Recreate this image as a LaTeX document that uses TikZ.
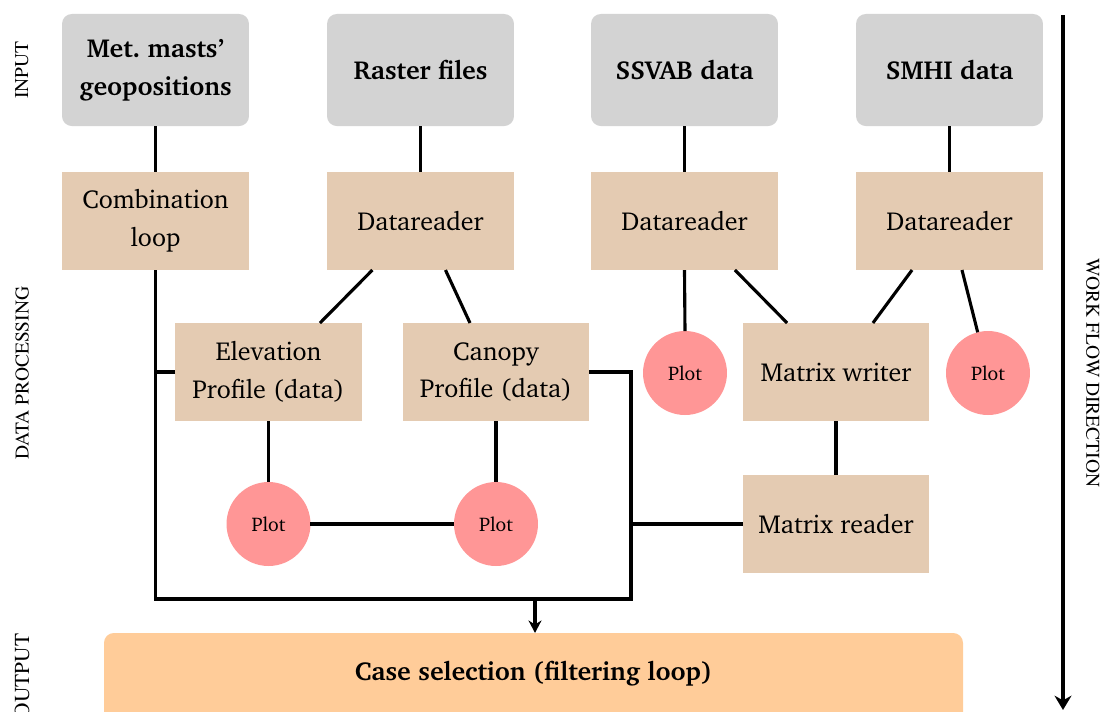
\documentclass[tikz,border=0pt]{standalone}
\usepackage[T1]{fontenc}
\usepackage{charter}
\usetikzlibrary{arrows.meta}
\definecolor{inputgray}{RGB}{211,211,211}
\definecolor{tanfill}{RGB}{228,203,178}
\definecolor{plotred}{RGB}{255,150,150}
\definecolor{outfill}{RGB}{255,204,153}
\newcommand{\sidefont}{\fontfamily{ptm}\fontsize{7.5}{9}\selectfont}

\begin{document}
\begin{tikzpicture}[x=0.3846pt,y=-0.3846pt,
  every node/.style={font=\fontsize{10}{14.6}\selectfont, align=center, inner sep=0pt, outer sep=0pt},
  inbox/.style={fill=inputgray, rounded corners=3.8pt, minimum width=71.9pt, minimum height=43.1pt,
                font=\bfseries\fontsize{10}{14.6}\selectfont},
  procbox/.style={fill=tanfill, minimum width=71.9pt, minimum height=37.7pt},
  plotnode/.style={circle, fill=plotred, minimum size=32.3pt, font=\fontsize{7.6}{9}\selectfont},
  outtext/.style={minimum width=330.4pt, minimum height=30.8pt,
                  font=\bfseries\fontsize{10}{14.6}\selectfont},
  link/.style={line width=1.2pt},
  sidelabel/.style={font=\sidefont}]

\clip (0,0) rectangle (1103,711);
\useasboundingbox (0,0) rectangle (1103,711);

% input row
\node[inbox] (masts)  at (155.5,70) {Met.\ masts'\\geopositions};
\node[inbox] (raster) at (420.5,70) {Raster files};
\node[inbox] (ssvab)  at (684.5,70) {SSVAB data};
\node[inbox] (smhi)   at (949.5,70) {SMHI data};

% first processing row
\node[procbox] (comb) at (155.5,221) {Combination\\loop};
\node[procbox] (dr2)  at (420.5,221) {Datareader};
\node[procbox] (dr3)  at (684.5,221) {Datareader};
\node[procbox] (dr4)  at (949.5,221) {Datareader};

% second processing row
\node[procbox] (elev)    at (268.5,372) {Elevation\\Profile (data)};
\node[procbox] (canopy)  at (496,372)   {Canopy\\Profile (data)};
\node[procbox] (mwriter) at (836,372)   {Matrix writer};
\node[procbox] (mreader) at (836,524)   {Matrix reader};

% plots
\node[plotnode] (p1) at (268.5,524) {Plot};
\node[plotnode] (p2) at (496,524)   {Plot};
\node[plotnode] (p3) at (685,373)   {Plot};
\node[plotnode] (p4) at (988,373)   {Plot};

% output: the box runs on below the lower edge
\fill[outfill, rounded corners=3.8pt] (104,633) rectangle (963,760);
\node[outtext] (case) at (533.5,673) {Case selection (filtering loop)};

% side labels
\node[sidelabel, rotate=90] (lin)   at (22,70)  {INPUT};
\node[sidelabel, rotate=90] (lproc) at (22,373) {DATA PROCESSING};
\node[sidelabel, rotate=90, font=\fontfamily{ptm}\fontsize{8.2}{9}\selectfont] (lout) at (22,676) {OUTPUT};
\node[sidelabel, rotate=-90] (lflow) at (1093,373) {WORK FLOW DIRECTION};

% connectors
\draw[link] (masts.south)  -- (comb.north);
\draw[link] (raster.south) -- (dr2.north);
\draw[link] (ssvab.south)  -- (dr3.north);
\draw[link] (smhi.south)   -- (dr4.north);

\draw[link] ([xshift=-18.5pt]dr2.south) -- ([xshift=19.8pt]elev.north);
\draw[link] ([xshift=9.6pt]dr2.south)   -- ([xshift=-10pt]canopy.north);
\draw[link] (dr3.south) -- (p3.north);
\draw[link] ([xshift=19.4pt]dr3.south)  -- ([xshift=-18.8pt]mwriter.north);
\draw[link] ([xshift=-14.4pt]dr4.south) -- ([xshift=14.2pt]mwriter.north);
\draw[link] ([xshift=4.8pt]dr4.south)   -- (p4);

\draw[link] (mwriter.south) -- (mreader.north);
\draw[link] (elev.south)    -- (p1.north);
\draw[link] (canopy.south)  -- (p2.north);
\draw[link] (p1.east)       -- (p2.west);

% collecting loop
\coordinate (bl) at (155.5,599);
\coordinate (br) at (631,599);
\coordinate (tr) at (631,372);
\coordinate (drop) at (535,599);
\draw[link] (comb.south) -- (bl) -- (br) -- (tr) -- (canopy.east);
\draw[link] (elev.west) -- (elev.west -| bl);
\draw[link] (mreader.west) -- (mreader.west -| br);
\draw[link, -{Stealth[length=4.8pt,width=5pt]}] (drop) -- (drop |- case.north);

% work flow arrow
\coordinate (ftop) at (1063,15);
\coordinate (fbot) at (1063,710);
\draw[line width=1.5pt, -{Stealth[length=5.5pt,width=6.5pt]}] (ftop) -- (fbot);
\end{tikzpicture}
\end{document}
